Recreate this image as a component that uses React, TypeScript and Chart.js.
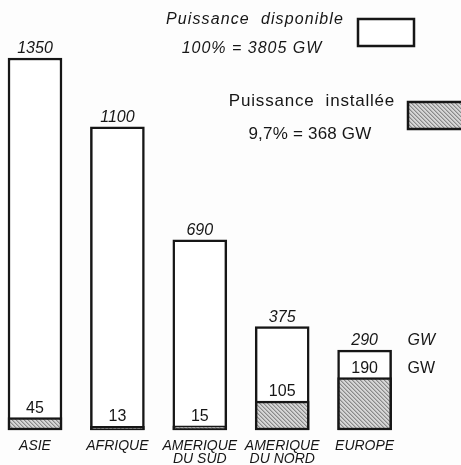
import React, { useEffect, useRef } from "react";
import { Chart, registerables } from "chart.js";

Chart.register(...registerables);

const CATEGORIES: string[][] = [
  ["ASIE"],
  ["AFRIQUE"],
  ["AMERIQUE", "DU SUD"],
  ["AMERIQUE", "DU NORD"],
  ["EUROPE"],
];
const AVAILABLE = [1350, 1100, 690, 375, 290];
const INSTALLED = [45, 13, 15, 105, 190];
const UNIT = "GW";
const LEGEND_AVAILABLE = ["Puissance  disponible", "100% = 3805 GW"];
const LEGEND_INSTALLED = ["Puissance  installée", "9,7% = 368 GW"];

const W = 461;
const H = 465;
const INK = "#161616";
const FONT = '"Liberation Sans", Arial, sans-serif';

function makeHatch(): CanvasPattern | string {
  const c = document.createElement("canvas");
  c.width = 4;
  c.height = 4;
  const g = c.getContext("2d");
  if (!g) return "#bbbbbb";
  g.fillStyle = "#d6d6d6";
  g.fillRect(0, 0, 4, 4);
  for (let i = 0; i < 4; i++) {
    g.fillStyle = "#8a8a8a";
    g.fillRect(i, i, 1, 1);
    g.fillStyle = "#b4b4b4";
    g.fillRect((i + 1) % 4, i, 1, 1);
  }
  const p = g.createPattern(c, "repeat");
  return p || "#bbbbbb";
}

export default function App() {
  const ref = useRef<HTMLCanvasElement | null>(null);

  useEffect(() => {
    const canvas = ref.current;
    if (!canvas) return;
    const hatch = makeHatch();

    const overlay = {
      id: "overlay",
      beforeDraw(chart: any) {
        const ctx = chart.ctx;
        ctx.save();
        ctx.fillStyle = "#fdfdfd";
        ctx.fillRect(0, 0, chart.width, chart.height);
        ctx.restore();
      },
      afterDatasetsDraw(chart: any) {
        const ctx = chart.ctx as CanvasRenderingContext2D;
        const inst = chart.getDatasetMeta(0).data;
        const avail = chart.getDatasetMeta(1).data;
        ctx.save();
        ctx.fillStyle = INK;
        ctx.textAlign = "center";
        ctx.textBaseline = "alphabetic";
        // values above bars
        avail.forEach((el: any, i: number) => {
          ctx.font = `italic 16px ${FONT}`;
          ctx.fillText(String(AVAILABLE[i]), el.x, el.y - 5);
        });
        inst.forEach((el: any, i: number) => {
          ctx.font = `16px ${FONT}`;
          ctx.fillText(String(INSTALLED[i]), el.x, el.y - 5);
        });
        // unit labels at last bar
        const last = AVAILABLE.length - 1;
        const la = avail[last];
        const li = inst[last];
        ctx.textAlign = "left";
        ctx.font = `italic 16px ${FONT}`;
        ctx.fillText(UNIT, la.x + 43, la.y - 5);
        ctx.font = `16px ${FONT}`;
        ctx.fillText(UNIT, li.x + 43, li.y - 5);

        // legend
        ctx.textAlign = "center";
        (ctx as any).letterSpacing = "1.1px";
        ctx.font = `italic 16px ${FONT}`;
        ctx.fillText(LEGEND_AVAILABLE[0], 255, 24);
        (ctx as any).letterSpacing = "1px";
        ctx.fillText(LEGEND_AVAILABLE[1], 252, 53);
        (ctx as any).letterSpacing = "0.8px";
        ctx.font = `17px ${FONT}`;
        ctx.fillText(LEGEND_INSTALLED[0], 312, 106);
        (ctx as any).letterSpacing = "0.2px";
        ctx.fillText(LEGEND_INSTALLED[1], 310, 139);
        (ctx as any).letterSpacing = "0px";

        // legend boxes
        ctx.lineWidth = 2.5;
        ctx.strokeStyle = INK;
        ctx.fillStyle = "#ffffff";
        ctx.fillRect(358, 19, 56, 27);
        ctx.strokeRect(358, 19, 56, 27);
        ctx.fillStyle = hatch as any;
        ctx.fillRect(408, 102, 60, 27);
        ctx.strokeRect(408, 102, 60, 27);
        ctx.restore();
      },
    };

    const chart = new Chart(canvas, {
      type: "bar",
      data: {
        labels: CATEGORIES,
        datasets: [
          {
            label: "Puissance installée",
            data: INSTALLED,
            backgroundColor: hatch as any,
            borderColor: INK,
            borderWidth: 2.5,
            borderSkipped: false,
            barThickness: 54,
            grouped: false,
            order: 0,
            clip: false as any,
          },
          {
            label: "Puissance disponible",
            data: AVAILABLE,
            backgroundColor: "#ffffff",
            borderColor: INK,
            borderWidth: 2.5,
            borderSkipped: false,
            barThickness: 54,
            grouped: false,
            order: 1,
            clip: false as any,
          },
        ],
      },
      options: {
        responsive: false,
        animation: false,
        layout: { padding: { left: 35, right: 96.4, top: 58, bottom: 0 } },
        plugins: {
          legend: { display: false },
          tooltip: { enabled: false },
        },
        scales: {
          x: {
            offset: false,
            grid: { display: false, drawTicks: false },
            border: { display: false },
            ticks: {
              autoSkip: false,
              maxRotation: 0,
              minRotation: 0,
              padding: 9,
              color: INK,
              font: { family: FONT, size: 14, style: "italic", lineHeight: 0.95 },
            },
            afterFit: (scale: any) => {
              scale.height = 35;
            },
          },
          y: { display: false, min: 0, max: 1350 },
        },
      },
      plugins: [overlay],
    });
    return () => chart.destroy();
  }, []);

  return (
    <div style={{ position: "absolute", left: 0, top: 0, width: W, height: H }}>
      <canvas ref={ref} width={W} height={H} style={{ display: "block" }} />
    </div>
  );
}
